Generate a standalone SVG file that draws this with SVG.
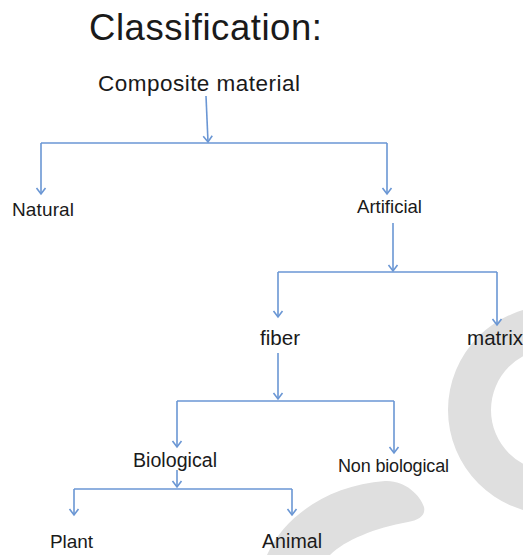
<svg xmlns="http://www.w3.org/2000/svg" width="523" height="555" viewBox="0 0 523 555">
<style>
  .t { font-family: "Liberation Sans", Arial, sans-serif; fill: #1a1a1a; }
  .c { fill: none; stroke: #6a96d4; stroke-width: 1.6; marker-end: url(#ah); }
  .b { fill: none; stroke: #6a96d4; stroke-width: 1.6; }
  .bg { fill: #dfdfdf; }
</style>
<defs>
  <marker id="ah" markerUnits="userSpaceOnUse" markerWidth="14" markerHeight="14" viewBox="-7 -7 14 14" refX="0" refY="0" orient="auto" overflow="visible">
    <path d="M-6,-4.5 L0,0 L-6,4.5" fill="none" stroke="#6a96d4" stroke-width="1.6"/>
  </marker>
</defs>
<rect width="523" height="555" fill="#ffffff"/>
<g id="decor">
  <path class="bg" fill-rule="evenodd" d="M448,410 A104,104 0 1,0 656,410 A104,104 0 1,0 448,410 Z M491,410 A61,61 0 1,0 613,410 A61,61 0 1,0 491,410 Z"/>
  <path class="bg" d="M267,555 C285,515 330,485 385,481 C405,480 420,495 424,507 C426,516 418,520 408,522 C375,528 345,540 330,555 Z"/>
</g>
<g id="connectors">
  <path class="c" d="M206,96 L208,142"/>
  <path class="b" d="M41,143 L387,143"/>
  <path class="c" d="M41,143 L41,194"/>
  <path class="c" d="M387,143 L387,194"/>
  <path class="c" d="M393,223 L393,271"/>
  <path class="b" d="M278,272 L497,272"/>
  <path class="c" d="M278,272 L278,317"/>
  <path class="c" d="M497,272 L497,325"/>
  <path class="c" d="M278,353 L278,399"/>
  <path class="b" d="M177,401 L394,401"/>
  <path class="c" d="M177,401 L177,447"/>
  <path class="c" d="M394,401 L394,453"/>
  <path class="c" d="M177,470 L177,487"/>
  <path class="b" d="M74,489 L292,489"/>
  <path class="c" d="M74,489 L74,515"/>
  <path class="c" d="M292,489 L292,515"/>
</g>
<g id="title"><text class="t" x="89" y="40" font-size="36.5" textLength="233" fill="#000">Classification:</text></g>
<g id="composite"><text class="t" x="98" y="91" font-size="22.5" textLength="202">Composite material</text></g>
<g id="natural"><text class="t" x="12" y="216" font-size="19" textLength="62">Natural</text></g>
<g id="artificial"><text class="t" x="357" y="213" font-size="18.6" textLength="65">Artificial</text></g>
<g id="fiber"><text class="t" x="260" y="345" font-size="20.6" textLength="40">fiber</text></g>
<g id="matrix"><text class="t" x="467" y="345" font-size="20.6">matrix</text></g>
<g id="biological"><text class="t" x="133" y="467" font-size="19.6" textLength="84">Biological</text></g>
<g id="nonbiological"><text class="t" x="338" y="472" font-size="18" textLength="111">Non biological</text></g>
<g id="plant"><text class="t" x="50" y="548" font-size="19" textLength="43">Plant</text></g>
<g id="animal"><text class="t" x="262" y="548" font-size="19.6" textLength="60">Animal</text></g>
</svg>
